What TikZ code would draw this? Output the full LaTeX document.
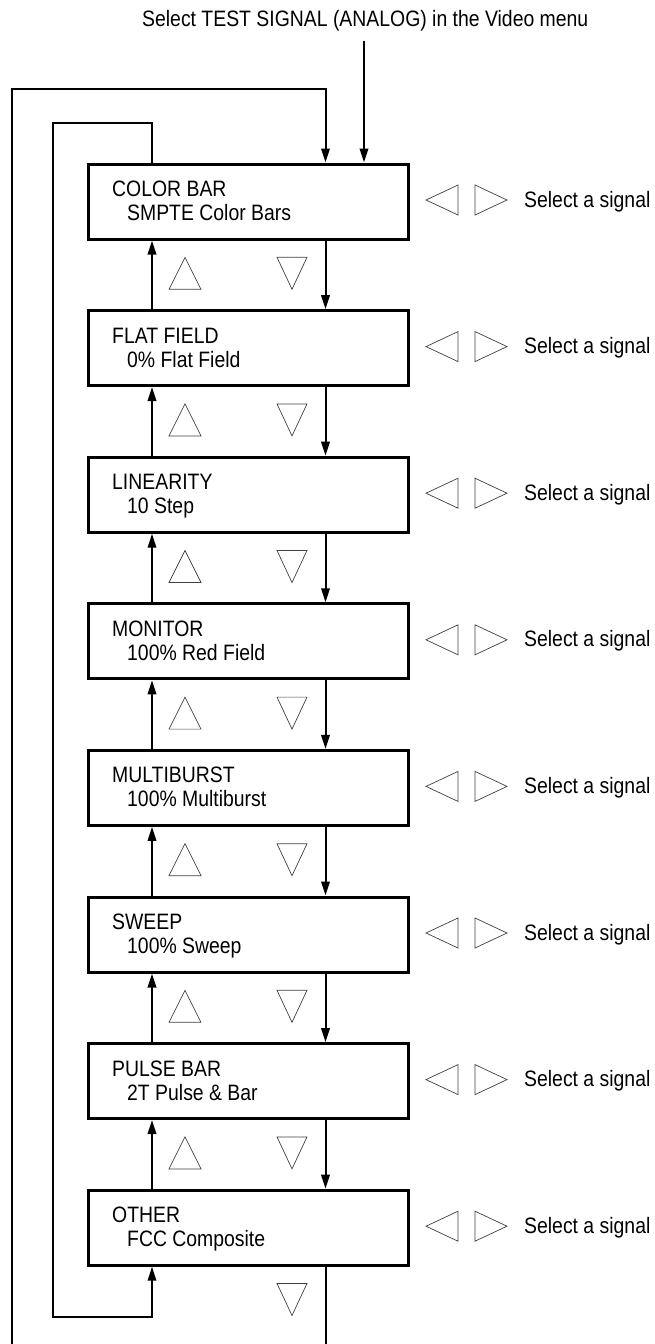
\documentclass[tikz,border=0pt]{standalone}
\usepackage{fontspec}
\setmainfont{Liberation Sans}[FakeStretch=0.87]
\usetikzlibrary{arrows.meta}
\begin{document}
\begin{tikzpicture}[x=1pt,y=-1pt,
  menubox/.style={draw,line width=3pt,minimum width=320.5pt,minimum height=75pt,inner sep=0pt,anchor=north west},
  txt/.style={inner sep=0pt,anchor=base west,font=\fontsize{22.3}{26}\selectfont},
  conn/.style={line width=2pt},
  arr/.style={conn,-{Triangle[length=14pt,width=8.5pt]}},
  sym/.style={line width=0.7pt,draw=black!75,line join=miter}
]
\useasboundingbox (0,0) rectangle (654,1344);

\node[txt] (title) at (142,26) {Select TEST SIGNAL (ANALOG) in the Video menu};

\coordinate (U) at (152,0);
\coordinate (D) at (325.5,0);
\coordinate (inTop) at (364,40.5);

\foreach \i/\a/\b in {0/COLOR BAR/SMPTE Color Bars,
                      1/FLAT FIELD/0\% Flat Field,
                      2/LINEARITY/10 Step,
                      3/MONITOR/100\% Red Field,
                      4/MULTIBURST/100\% Multiburst,
                      5/SWEEP/100\% Sweep,
                      6/PULSE BAR/2T Pulse \& Bar,
                      7/OTHER/FCC Composite}{
  \pgfmathsetmacro{\t}{162.5+146.6*\i}
  \node[menubox] (b\i) at (86.5,\t) {};
  \node[txt] (h\i) at (112,\t+34) {\a};
  \node[txt] (v\i) at (127,\t+58) {\b};
  \node[txt] (sel\i) at (524,\t+44.5) {Select a signal};
  \draw[sym] (426,\t+37.5) -- (458,\t+22.5) -- (458,\t+52.5) -- cycle;
  \draw[sym] (507,\t+37.5) -- (475,\t+22.5) -- (475,\t+52.5) -- cycle;
  \draw[sym] (277,\t+94.8) -- (307,\t+94.8) -- (292,\t+126.8) -- cycle;
}

\foreach \i in {0,...,6}{
  \pgfmathsetmacro{\t}{162.5+146.6*\i}
  \pgfmathtruncatemacro{\j}{\i+1}
  \draw[sym] (185,\t+94.8) -- (201,\t+126.8) -- (169,\t+126.8) -- cycle;
  \draw[arr] (b\j.north -| U) -- (b\i.south -| U);
  \draw[arr] (b\i.south -| D) -- (b\j.north -| D);
}

% input arrow
\draw[arr] (inTop) -- (b0.north -| inTop);

% outer loop (from below, cut at page edge)
\coordinate (oBL) at (12,1344);
\coordinate (oTL) at (12,89.3);
\coordinate (oTR) at (325.5,89.3);
\draw[arr] (oBL) -- (oTL) -- (oTR) -- (b0.north -| D);
\coordinate (oEnd) at (325.5,1344);
\draw[conn] (b7.south -| D) -- (oEnd);

% inner loop
\coordinate (iTR) at (152,123.3);
\coordinate (iTL) at (53,123.3);
\coordinate (iBL) at (53,1317);
\coordinate (iBR) at (152,1317);
\draw[arr] (b0.north -| U) -- (iTR) -- (iTL) -- (iBL) -- (iBR) -- (b7.south -| U);
\end{tikzpicture}
\end{document}
